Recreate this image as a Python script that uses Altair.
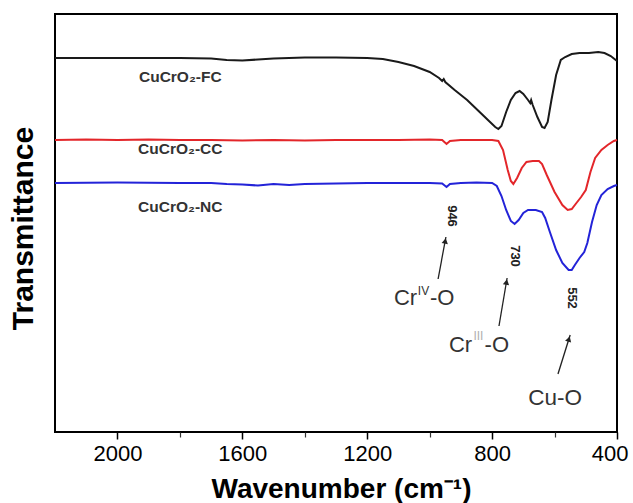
import altair as alt
import pandas as pd

# ---- data (wavenumber cm-1, relative transmittance) ----
fc_wn = [2200, 2000, 1800, 1700, 1650, 1600, 1550, 1500, 1400, 1300, 1200, 1150, 1100, 1050, 1000, 970, 960, 955, 950,
         920, 880, 840, 810, 790, 780, 770, 755, 740, 725, 712, 700, 685, 678, 675, 670, 655, 640, 632, 622, 610,
         595, 580, 566, 545, 520, 490, 460, 440, 420, 400]
fc_t = [376, 376, 376, 375.5, 374, 373.5, 374.5, 375.5, 376.5, 376.5, 376, 375, 372, 368, 362, 356, 353, 355, 352,
        344, 334, 322, 313, 307, 305, 308, 322, 334, 341, 343, 340, 334, 331, 334, 329, 317, 307, 306, 312, 334,
        359, 374, 377, 380, 381, 381, 382, 381, 378, 373]

cc_wn = [2200, 2100, 2000, 1900, 1800, 1700, 1600, 1500, 1400, 1300, 1200, 1100, 1000, 960, 946, 935, 900, 850, 800,
         780, 765, 750, 740, 732, 720, 705, 690, 670, 650, 640, 625, 600, 575, 558, 545, 530, 515, 500, 485, 470,
         450, 430, 410, 400]
cc_t = [294, 294.5, 294, 294.5, 294, 294, 293.5, 294, 293.5, 294, 294, 294, 294.5, 294, 290, 293, 294, 294, 294,
        293, 284, 264, 253, 250, 256, 266, 272, 273, 273, 270, 259, 242, 229, 224, 225, 231, 237, 244, 262, 276,
        284, 289, 293, 294]

nc_wn = [2200, 2000, 1800, 1700, 1650, 1600, 1550, 1500, 1450, 1400, 1300, 1200, 1100, 1000, 960, 946, 935, 900, 850,
         800, 785, 770, 755, 740, 728, 715, 700, 685, 660, 640, 630, 615, 595, 575, 555, 545, 535, 520, 505, 495,
         480, 465, 450, 430, 410, 400]
nc_t = [251, 251.5, 251, 251, 250, 249.5, 248.5, 250, 249, 250, 250.5, 251, 251, 251, 250.5, 247, 250, 251, 251.5,
        251, 248, 238, 224, 213, 210, 214, 221, 224, 224, 222, 216, 202, 184, 171, 164, 164, 169, 176, 182, 191,
        212, 229, 239, 245, 248, 249]

series_names = ["CuCrO₂-FC", "CuCrO₂-CC", "CuCrO₂-NC"]
series_colors = ["#1a1a1a", "#e3262a", "#2323d8"]

major_ticks = [2000, 1600, 1200, 800, 400]
minor_ticks = [1800, 1400, 1000, 600]

# curve labels
label_wn = [1931, 1934, 1934]
label_t = [357, 285, 227]

# peak annotations
peak_text = ["946", "730", "552"]
peak_wn = [928, 727, 544]
peak_t = [218, 178, 136]

# arrows (tail -> tip) and arrowhead centres
arrow_x = [973, 778, 589]
arrow_y = [155, 108, 60]
arrow_x2 = [948, 752, 550]
arrow_y2 = [197, 156, 99]
head_x = [950, 754, 554]
head_y = [193, 152, 95]
head_ang = [11, 10, 17]

# ---- build tables ----
rows = []
for name, wn, t in [(series_names[0], fc_wn, fc_t), (series_names[1], cc_wn, cc_t), (series_names[2], nc_wn, nc_t)]:
    for i, (a, b) in enumerate(zip(wn, t)):
        rows.append({"series": name, "wn": a, "t": b, "order": i})
df = pd.DataFrame(rows)

xscale = alt.Scale(domain=[400, 2200], reverse=True, nice=False, zero=False)
yscale = alt.Scale(domain=[2, 420], nice=False, zero=False)

lines = alt.Chart(df).mark_line(strokeWidth=2).encode(
    x=alt.X("wn:Q", scale=xscale,
            axis=alt.Axis(values=major_ticks, format="d", orient="bottom", domain=False, grid=False, tickSize=7,
                          tickWidth=1.5, tickColor="black", labelFontSize=22, labelFont="Liberation Sans",
                          labelColor="black", labelPadding=4, labelFlush=True, labelFlushOffset=11,
                          title="Wavenumber (cm⁻¹)", titleFontSize=28,
                          titleFont="Liberation Sans", titleFontWeight="bold", titleColor="black",
                          titleX=286, titleY=57, titleBaseline="middle")),
    y=alt.Y("t:Q", scale=yscale,
            axis=alt.Axis(labels=False, ticks=False, domain=False, grid=False, title="Transmittance",
                          titleFontSize=30, titleFont="Liberation Sans", titleFontWeight="bold",
                          titleColor="black", titleAngle=-90, titleX=-32, titleY=214,
                          titleBaseline="middle", titleAlign="center")),
    color=alt.Color("series:N", scale=alt.Scale(domain=series_names, range=series_colors), legend=None),
    order="order:Q",
)

minor_df = pd.DataFrame({"wn": minor_ticks, "t": [100] * len(minor_ticks)})
minor = alt.Chart(minor_df).mark_point(opacity=0).encode(
    x=alt.X("wn:Q", scale=xscale,
            axis=alt.Axis(values=minor_ticks, orient="bottom", domain=False, grid=False, labels=False,
                          tickSize=5, tickWidth=1.2, tickColor="#333333", title=None)),
    y=alt.Y("t:Q", scale=yscale, axis=None),
)

lab_df = pd.DataFrame({"wn": label_wn, "t": label_t, "text": series_names})
labels = alt.Chart(lab_df).mark_text(align="left", baseline="middle", fontSize=15.5, fontWeight="bold",
                                     font="Liberation Sans", color="#333333").encode(
    x=alt.X("wn:Q", scale=xscale, axis=None), y=alt.Y("t:Q", scale=yscale, axis=None), text="text:N")

pk_df = pd.DataFrame({"wn": peak_wn, "t": peak_t, "text": peak_text})
peaks = alt.Chart(pk_df).mark_text(align="center", baseline="middle", fontSize=13, fontWeight="bold",
                                   font="Liberation Sans", color="#222222", angle=90).encode(
    x=alt.X("wn:Q", scale=xscale, axis=None), y=alt.Y("t:Q", scale=yscale, axis=None), text="text:N")

ar_df = pd.DataFrame({"x": arrow_x, "y": arrow_y, "x2": arrow_x2, "y2": arrow_y2})
arrows = alt.Chart(ar_df).mark_rule(strokeWidth=1.3, color="#222222").encode(
    x=alt.X("x:Q", scale=xscale, axis=None), y=alt.Y("y:Q", scale=yscale, axis=None), x2="x2:Q", y2="y2:Q")
hd_df = pd.DataFrame({"x": head_x, "y": head_y, "ang": head_ang})
heads = alt.Chart(hd_df).mark_point(shape="triangle-up", filled=True, size=40, color="#222222", opacity=1).encode(
    x=alt.X("x:Q", scale=xscale, axis=None), y=alt.Y("y:Q", scale=yscale, axis=None),
    angle=alt.Angle("ang:Q", scale=None))

# bond labels
main_df = pd.DataFrame({"wn": [1040, 864], "t": [129, 82], "text": ["Cr", "Cr"]})
main_txt = alt.Chart(main_df).mark_text(align="right", baseline="alphabetic", fontSize=22,
                                        font="Liberation Sans", color="#333333").encode(
    x=alt.X("wn:Q", scale=xscale, axis=None), y=alt.Y("t:Q", scale=yscale, axis=None), text="text:N")
o_df = pd.DataFrame({"wn": [999, 824], "t": [129, 82], "text": ["-O", "-O"]})
o_txt = alt.Chart(o_df).mark_text(align="left", baseline="alphabetic", fontSize=22,
                                  font="Liberation Sans", color="#333333").encode(
    x=alt.X("wn:Q", scale=xscale, axis=None), y=alt.Y("t:Q", scale=yscale, axis=None), text="text:N")
sup_df = pd.DataFrame({"wn": [1038, 860], "t": [139, 94], "text": ["IV", "III"], "c": ["#333333", "#b0b0b0"]})
sup_txt = alt.Chart(sup_df).mark_text(align="left", baseline="alphabetic", fontSize=12,
                                      font="Liberation Sans").encode(
    x=alt.X("wn:Q", scale=xscale, axis=None), y=alt.Y("t:Q", scale=yscale, axis=None), text="text:N",
    color=alt.Color("c:N", scale=None))
cu_df = pd.DataFrame({"wn": [598], "t": [29], "text": ["Cu-O"]})
cu_txt = alt.Chart(cu_df).mark_text(align="center", baseline="alphabetic", fontSize=22.5,
                                    font="Liberation Sans", color="#333333").encode(
    x=alt.X("wn:Q", scale=xscale, axis=None), y=alt.Y("t:Q", scale=yscale, axis=None), text="text:N")

chart = alt.layer(lines, minor, labels, peaks, arrows, heads, main_txt, o_txt, sup_txt, cu_txt).resolve_axis(
    x="independent", y="independent"
).properties(
    width=562, height=418,
    autosize=alt.AutoSizeParams(type="none"),
    padding={"left": 55, "top": 14, "right": 16, "bottom": 71},
    background="white",
).configure_view(stroke="black", strokeWidth=2)

chart.save("out.html", embed_options={"renderer": "svg", "actions": False})
